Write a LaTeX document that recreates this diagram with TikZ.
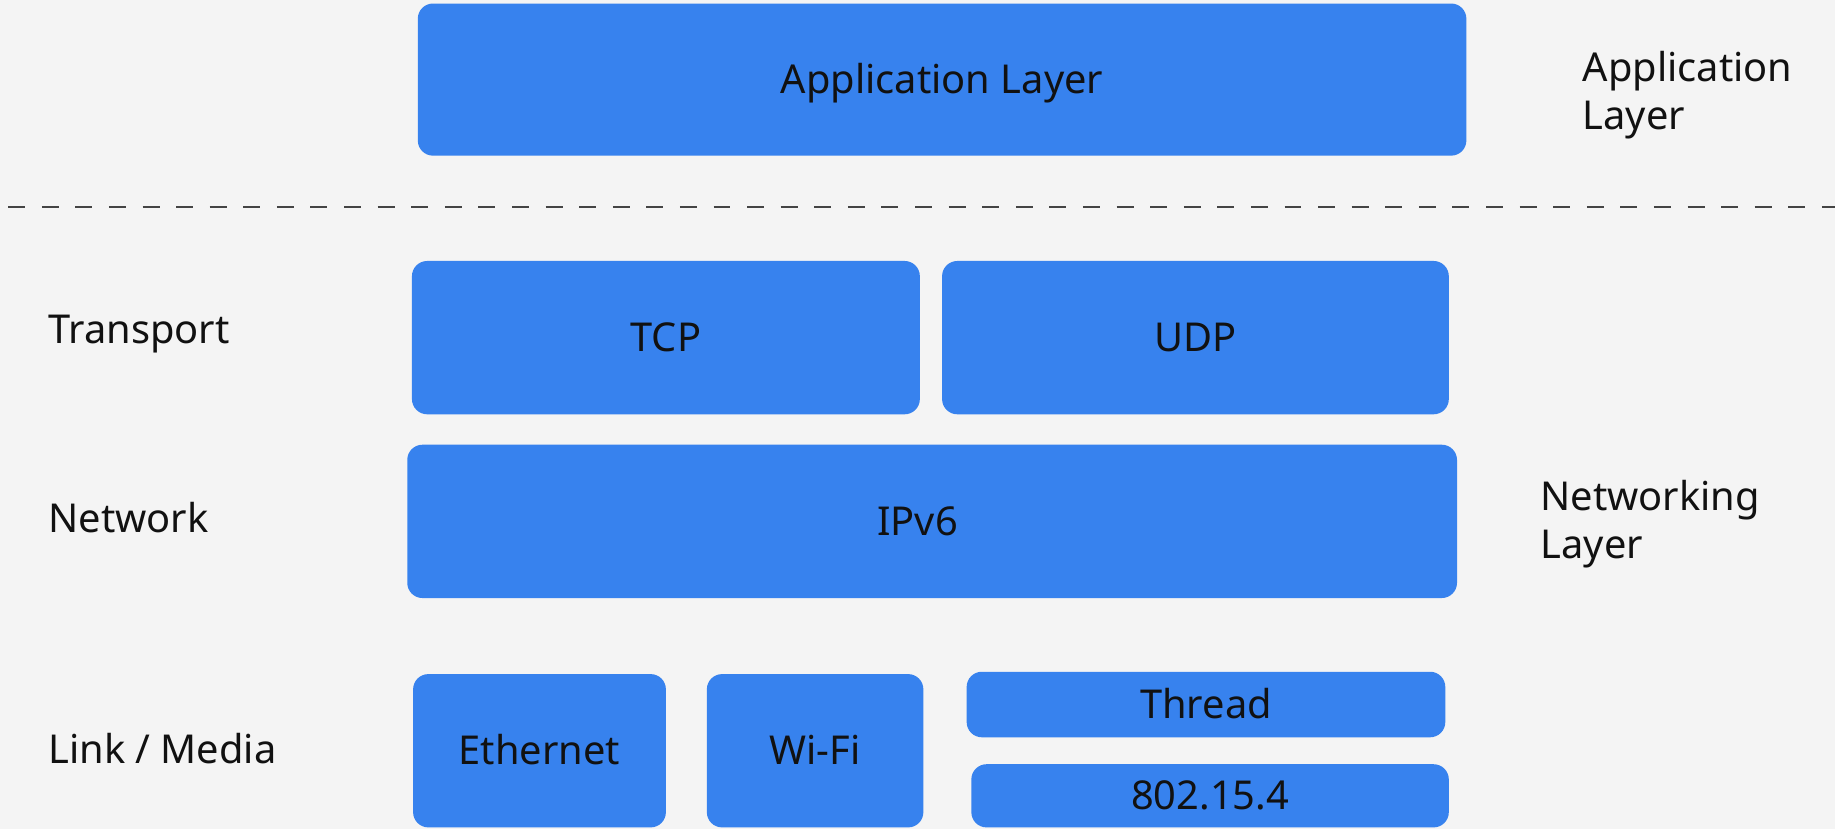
\documentclass[tikz,border=0pt]{standalone}
\usepackage{fontspec}
\setmainfont{Noto Sans}
\definecolor{bgc}{HTML}{F4F4F4}
\definecolor{boxc}{HTML}{3782EE}
\definecolor{txtc}{HTML}{111111}
\definecolor{dashc}{HTML}{444444}
\begin{document}
\begin{tikzpicture}[x=0.5pt,y=-0.5pt,
  every node/.style={font=\fontsize{17pt}{20.5pt}\selectfont, text=txtc, inner sep=0pt},
  layerbox/.style={fill=boxc, draw=none, rounded corners=6.5pt, text height=12.1pt, text depth=0pt},
  sidelabel/.style={anchor=west, text height=12.1pt, text depth=0pt},
  grouplabel/.style={anchor=west, align=left},
  sepline/.style={draw=dashc, line width=0.75pt, dash pattern=on 7.25pt off 7.1pt}]
\fill[bgc] (0,0) rectangle (1568,708);
\useasboundingbox (0,0) rectangle (1568,708);

% top application box
\node[layerbox, minimum width=448pt, minimum height=65pt] (app) at (805,68) {Application Layer};
\node[grouplabel] (applbl) at (1352,81) {Application\\Layer};

% separator
\coordinate (dl) at (7,177);
\coordinate (dr) at (1568,177);
\draw[sepline] (dl) -- (dr);

% transport
\node[sidelabel] (transport) at (41,281) {Transport};
\node[layerbox, minimum width=217pt, minimum height=65.5pt] (tcp) at (569,288.5) {TCP};
\node[layerbox, minimum width=216.5pt, minimum height=65.5pt] (udp) at (1021.5,288.5) {UDP};

% network
\node[sidelabel] (network) at (41,443) {Network};
\node[layerbox, minimum width=448.5pt, minimum height=65.5pt] (ipv6) at (796.5,445.5) {};
\node[sidelabel, anchor=center] (ipv6txt) at (784,445.5) {IPv6};
\node[grouplabel] (netlbl) at (1316,448) {Networking\\Layer};

% link / media
\node[sidelabel] (link) at (41,640) {Link / Media};
\node[layerbox, minimum width=108pt, minimum height=65.5pt] (eth) at (461,641.5) {Ethernet};
\node[layerbox, minimum width=92.5pt, minimum height=65.5pt] (wifi) at (696.5,641.5) {Wi-Fi};
\node[layerbox, minimum width=204.5pt, minimum height=28pt] (thread) at (1030.5,602) {Thread};
\node[layerbox, minimum width=204pt, minimum height=27pt] (ieee) at (1034,680) {802.15.4};
\end{tikzpicture}
\end{document}
